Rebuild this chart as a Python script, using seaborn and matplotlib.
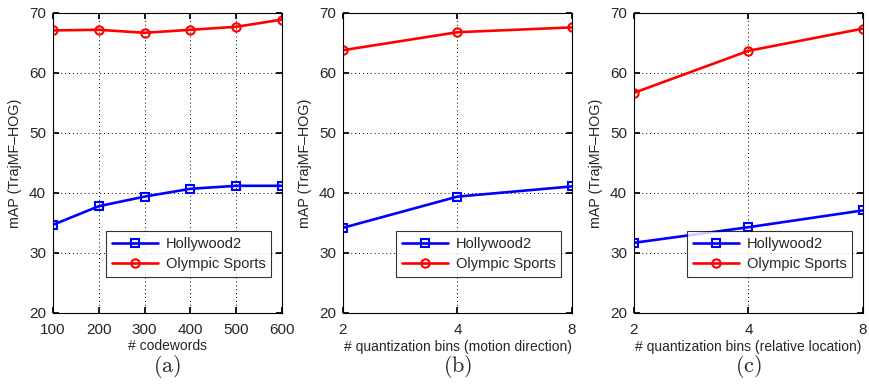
import matplotlib

matplotlib.use("Agg")
import matplotlib.pyplot as plt
import seaborn as sns
import pandas as pd

# panel (a): codebook size
codewords = [100, 200, 300, 400, 500, 600]
hw2_codewords = [34.7, 37.8, 39.4, 40.7, 41.2, 41.2]
oly_codewords = [67.1, 67.2, 66.7, 67.2, 67.7, 68.9]

# panel (b): quantization bins, motion direction
bins = [2, 4, 8]
hw2_motion = [34.2, 39.4, 41.1]
oly_motion = [63.8, 66.8, 67.6]

# panel (c): quantization bins, relative location
hw2_location = [31.7, 34.3, 37.1]
oly_location = [56.7, 63.7, 67.4]

xlabels = [
    "# codewords",
    "# quantization bins (motion direction)",
    "# quantization bins (relative location)",
]
panel_tags = ["(a)", "(b)", "(c)"]

sns.set_theme(style="white")
plt.rcParams["font.family"] = ["Liberation Sans", "DejaVu Sans"]
plt.rcParams["mathtext.fontset"] = "cm"

fig = plt.figure(figsize=(8.7, 3.88), dpi=100)
lefts = [53 / 870, 343 / 870, 634 / 870]
axes = [fig.add_axes([l, 75 / 388, 229 / 870, 300 / 388]) for l in lefts]

panels = [
    (codewords, hw2_codewords, oly_codewords),
    (bins, hw2_motion, oly_motion),
    (bins, hw2_location, oly_location),
]

for i, (ax, (xs, hw2, oly)) in enumerate(zip(axes, panels)):
    df = pd.DataFrame({"x": xs, "Hollywood2": hw2, "Olympic Sports": oly})
    for name, color, marker in [
        ("Hollywood2", "#0000ff", "s"),
        ("Olympic Sports", "#ff0000", "o"),
    ]:
        sns.lineplot(
            data=df, x="x", y=name, ax=ax, color=color, marker=marker,
            markersize=6, markerfacecolor="none", markeredgecolor=color,
            markeredgewidth=1.5, linewidth=1.9, label=name,
        )

    if i == 0:
        ax.set_xlim(100, 600)
        ax.set_xticks(codewords)
    else:
        ax.set_xscale("log", base=2)
        ax.set_xlim(2, 8)
        ax.set_xticks(bins)
        ax.set_xticklabels([str(b) for b in bins])
        ax.minorticks_off()
    ax.set_ylim(20, 70)
    ax.set_yticks([20, 30, 40, 50, 60, 70])

    ax.grid(True, linestyle=(0, (1, 3)), color="black", linewidth=0.7)
    ax.tick_params(direction="in", length=4, labelsize=11, color="black",
                   top=True, right=True, bottom=True, left=True)
    ax.tick_params(axis="x", pad=7)
    ax.tick_params(axis="y", pad=5)
    for s in ax.spines.values():
        s.set_color("black")
        s.set_linewidth(0.8)

    ax.set_xlabel(xlabels[i], fontsize=10, labelpad=2)
    ax.set_ylabel("mAP (TrajMF\u2013HOG)", fontsize=10.3, labelpad=5)

    leg = ax.legend(loc="lower right", bbox_to_anchor=(0.985, 0.095),
                    fontsize=10.5, frameon=True, fancybox=False,
                    handlelength=3.2, borderpad=0.4, labelspacing=0.45,
                    handletextpad=0.5)
    leg.get_frame().set_edgecolor("black")
    leg.get_frame().set_linewidth(0.8)

    pos = ax.get_position()
    fig.text(pos.x0 + pos.width / 2, 1 - 366 / 388, r"$\mathrm{" + panel_tags[i] + "}$",
             ha="center", va="center", fontsize=16)

fig.savefig("out.png", dpi=100)
